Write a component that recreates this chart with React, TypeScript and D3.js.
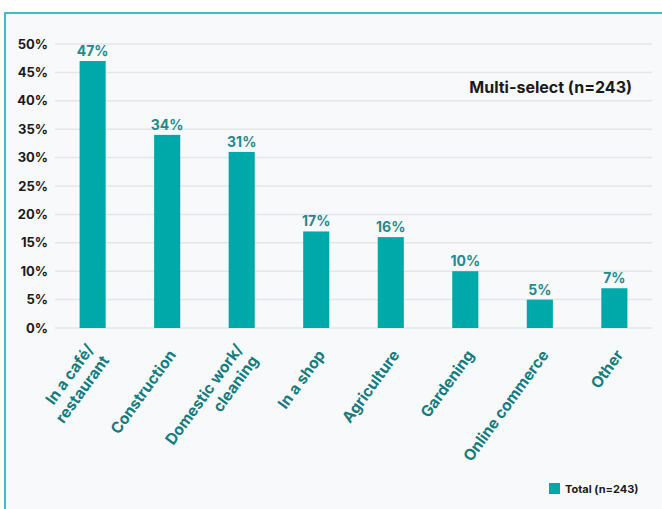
import React from "react";
import * as d3 from "d3";

const categories: string[][] = [
  ["In a café/", "restaurant"],
  ["Construction"],
  ["Domestic work/", "cleaning"],
  ["In a shop"],
  ["Agriculture"],
  ["Gardening"],
  ["Online commerce"],
  ["Other"],
];
const values = [47, 34, 31, 17, 16, 10, 5, 7];
const yTicks = [0, 5, 10, 15, 20, 25, 30, 35, 40, 45, 50];
const seriesName = "Total (n=243)";
const note = "Multi-select (n=243)";

const W = 662;
const H = 509;
const FONT = "Inter, 'Noto Sans', sans-serif";

export default function App() {
  const x = d3
    .scaleBand<number>()
    .domain(d3.range(categories.length))
    .range([55, 652])
    .paddingInner(0.65)
    .paddingOuter(0.33);
  const y = d3.scaleLinear().domain([0, 50]).range([328, 44]);
  const angle = -54;

  return (
    <svg
      width={W}
      height={H}
      style={{ position: "absolute", left: 0, top: 0, fontFamily: FONT }}
    >
      <rect x={0} y={0} width={W} height={H} fill="#ffffff" />
      <rect
        x={5}
        y={13}
        width={W + 10}
        height={H + 10}
        fill="#f8f9fb"
        stroke="#3dbfbf"
        strokeWidth={2}
      />
      {yTicks.map((t) => (
        <g key={t}>
          <line
            x1={55}
            x2={652}
            y1={y(t)}
            y2={y(t)}
            stroke="#e4e6ea"
            strokeWidth={1.5}
          />
          <text
            x={48}
            y={y(t)}
            dy="0.35em"
            textAnchor="end"
            fontSize={13}
            fontWeight={700}
            fill="#1a1a1a"
          >
            {t}%
          </text>
        </g>
      ))}
      {values.map((v, i) => {
        const bx = x(i)!;
        const cx = bx + x.bandwidth() / 2;
        return (
          <g key={i}>
            <rect
              x={bx}
              y={y(v)}
              width={x.bandwidth()}
              height={y(0) - y(v)}
              fill="#00a9a9"
            />
            <text
              x={cx}
              y={y(v) - 5}
              textAnchor="middle"
              fontSize={14}
              fontWeight={700}
              fill="#24898b"
            >
              {v}%
            </text>
          </g>
        );
      })}
      {categories.map((lines, i) => {
        const cx = x(i)! + x.bandwidth() / 2;
        const n = lines.length;
        return (
          <text
            key={i}
            transform={`translate(${cx + 9.5},${355}) rotate(${angle})`}
            textAnchor="end"
            fontSize={15.5}
            fontWeight={700}
            fill="#137c7e"
          >
            {lines.map((l, j) => (
              <tspan key={j} x={0} y={(j - (n - 1) / 2) * 19}>
                {l}
              </tspan>
            ))}
          </text>
        );
      })}
      <text
        x={632}
        y={93}
        textAnchor="end"
        fontSize={16}
        fontWeight={700}
        fill="#1a1a1a"
      >
        {note}
      </text>
      <rect x={549} y={483} width={11} height={11} fill="#00a9a9" />
      <text x={565} y={493} fontSize={11} fontWeight={700} fill="#1a1a1a">
        {seriesName}
      </text>
    </svg>
  );
}
